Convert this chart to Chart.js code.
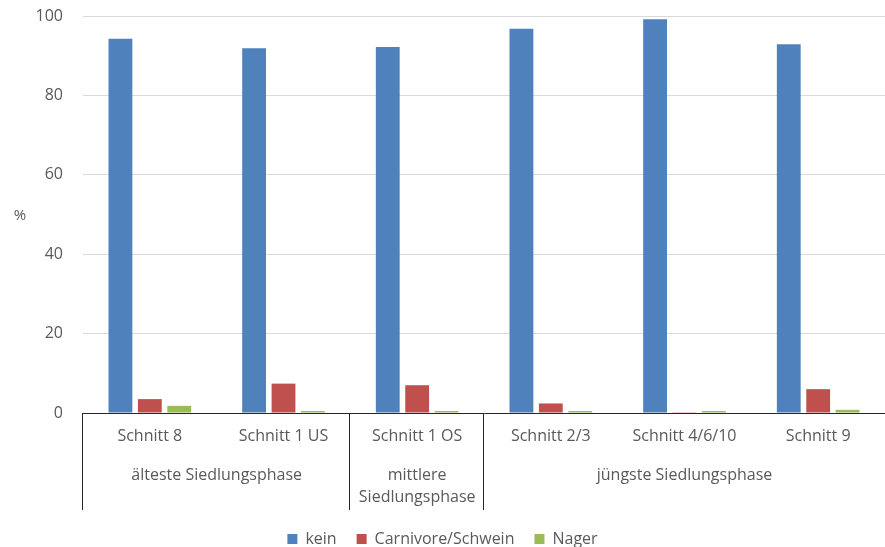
<!DOCTYPE html>
<html>
<head>
<meta charset="utf-8">
<script src="https://cdn.jsdelivr.net/npm/chart.js@4"></script>
<style>
  html, body { margin: 0; padding: 0; background: #fff; }
  #wrap { width: 885px; height: 547px; position: relative; }
</style>
</head>
<body>
<div id="wrap"><canvas id="chart"></canvas></div>
<script>
// categories and groups (lower level of the category axis)
const categories = ['Schnitt 8', 'Schnitt 1 US', 'Schnitt 1 OS', 'Schnitt 2/3', 'Schnitt 4/6/10', 'Schnitt 9'];
const groupLabels = [['älteste Siedlungsphase'], ['mittlere', 'Siedlungsphase'], ['jüngste Siedlungsphase']];
const groupSpans = [2, 1, 3];

// series values in %
const kein = [94.3, 91.9, 92.2, 96.8, 99.2, 92.9];
const carnivore = [3.5, 7.4, 7.0, 2.4, 0.2, 6.0];
const nager = [1.8, 0.5, 0.5, 0.5, 0.5, 0.8];

const yTicks = [0, 20, 40, 60, 80, 100];
const seriesNames = ['kein', 'Carnivore/Schwein', 'Nager'];

const FONT = "'Open Sans', sans-serif";
const TXT = '#595959';

// legend keeps its item spacing but takes less height at the bottom
const legendHeight = {
  id: 'legendHeight',
  afterInit(chart) {
    const lg = chart.legend; if (!lg) return;
    const fit = lg.fit;
    lg.fit = function () { fit.call(this); this.height = 36; };
  }
};

// draws group labels, separators and the "%" axis title
const groupAxis = {
  id: 'groupAxis',
  afterDraw(chart) {
    const c = chart.ctx, x = chart.scales.x, area = chart.chartArea;
    const w = (x.right - x.left) / categories.length;
    c.save();
    c.strokeStyle = '#262626'; c.lineWidth = 1;
    let k = 0;
    groupSpans.forEach((span, gi) => {
      const x0 = Math.round(x.left + k * w) - 0.5;
      c.beginPath(); c.moveTo(x0, area.bottom); c.lineTo(x0, 510); c.stroke();
      const cx = x.left + (k + span / 2) * w;
      c.fillStyle = TXT; c.font = '16px ' + FONT; c.textAlign = 'center'; c.textBaseline = 'middle';
      groupLabels[gi].forEach((t, li) => c.fillText(t, cx, 475 + li * 22));
      k += span;
    });
    c.fillStyle = TXT; c.font = '15px ' + FONT; c.textAlign = 'center'; c.textBaseline = 'middle';
    c.fillText('%', 20, 216);
    c.restore();
  }
};

new Chart(document.getElementById('chart'), {
  type: 'bar',
  data: {
    labels: categories,
    datasets: [
      { label: seriesNames[0], data: kein, backgroundColor: '#4F81BD' },
      { label: seriesNames[1], data: carnivore, backgroundColor: '#C0504D' },
      { label: seriesNames[2], data: nager, backgroundColor: '#9BBB59' }
    ]
  },
  options: {
    responsive: true, maintainAspectRatio: false, animation: false,
    layout: { padding: { top: 16, left: 0, right: 0, bottom: 0 } },
    datasets: { bar: { categoryPercentage: 0.66, barPercentage: 0.81 } },
    plugins: {
      tooltip: { enabled: false },
      legend: {
        position: 'bottom',
        labels: { boxWidth: 10, boxHeight: 10, padding: 20, color: TXT, font: { family: FONT, size: 16 } }
      }
    },
    scales: {
      x: {
        grid: { display: false, drawTicks: false },
        border: { display: true, color: '#262626', width: 1 },
        ticks: { color: TXT, font: { family: FONT, size: 16 }, padding: 14, maxRotation: 0 },
        afterFit(s) { s.height = 98; }
      },
      y: {
        min: 0, max: 100,
        afterBuildTicks(s) { s.ticks = yTicks.map(v => ({ value: v })); },
        grid: { color: '#D9D9D9', drawTicks: true, tickLength: 20, tickColor: 'rgba(0,0,0,0)' },
        border: { display: false },
        ticks: { color: TXT, font: { family: FONT, size: 16 }, padding: 0 },
        afterFit(s) { s.width = 83; }
      }
    }
  },
  plugins: [legendHeight, groupAxis]
});
</script>
</body>
</html>
